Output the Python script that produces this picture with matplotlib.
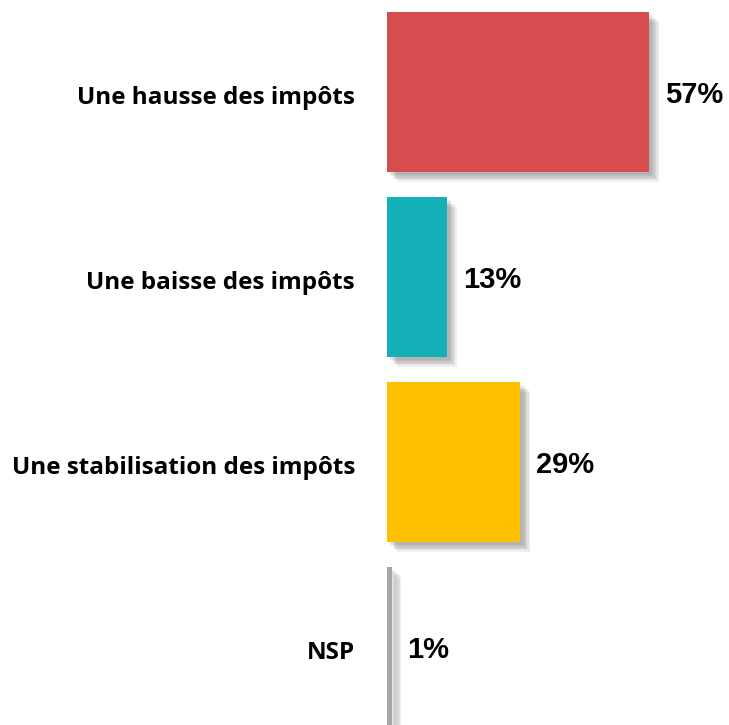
import matplotlib.pyplot as plt
import matplotlib.patheffects as pe

categories = ['Une hausse des impôts', 'Une baisse des impôts',
              'Une stabilisation des impôts', 'NSP']
values = [57, 13, 29, 1]
labels = ['57%', '13%', '29%', '1%']
colors = ['#D64D50', '#14B0B8', '#FFC000', '#A6A6A6']

W, H = 729, 725
fig = plt.figure(figsize=(W / 100, H / 100), dpi=100)
# axes spans from the bar baseline to the right edge
ax = fig.add_axes([387 / W, 0, 1 - 387 / W, 1 - 12 / H])

pos = list(range(len(values)))
bars = ax.barh(pos, values, height=0.865, color=colors)
# soft drop shadow, several faint layers
shadow = [pe.SimplePatchShadow(offset=(d, -d), alpha=0.07, shadow_rgbFace='#333333')
          for d in (2, 3, 4, 5, 6, 7)]
for b in bars:
    b.set_path_effects(shadow + [pe.Normal()])

ax.set_xlim(0, (W - 387) / 4.6)
ax.set_ylim((H - 92) / 185, -80 / 185)
ax.axis('off')

for p, v, lab in zip(pos, values, labels):
    ax.annotate(lab, xy=(v, p), xytext=(16, -3), textcoords='offset pixels',
                va='center', ha='left', fontsize=21, fontweight='bold',
                family='Liberation Sans', color='black', annotation_clip=False)

for p, c in zip(pos, categories):
    ax.annotate(c, xy=(0, p), xytext=(-32, -6), textcoords='offset pixels',
                ha='right', va='center', fontsize=17.5, fontweight='bold',
                family='Open Sans', color='black', annotation_clip=False)

fig.savefig('out.png', dpi=100)
